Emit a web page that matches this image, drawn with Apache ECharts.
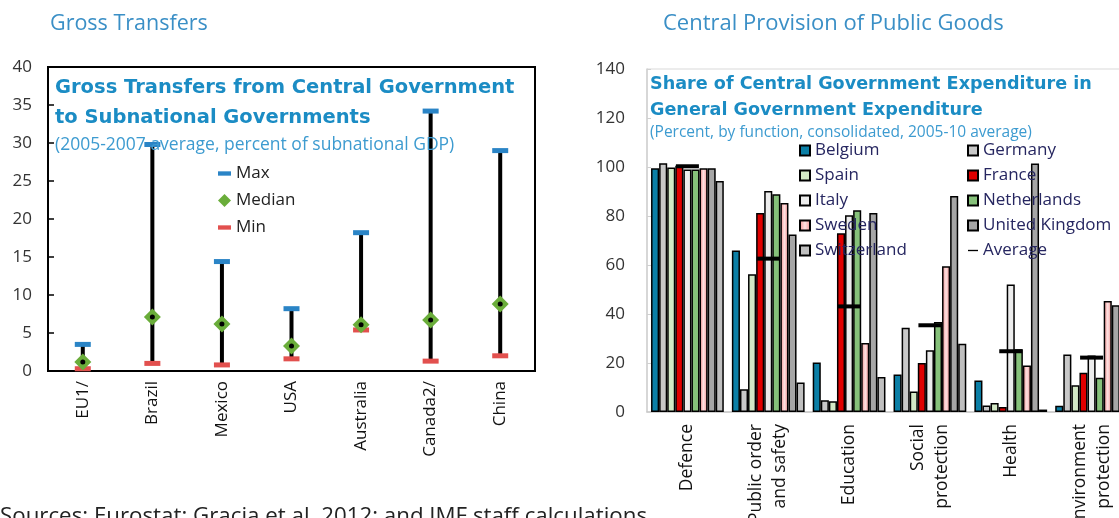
<!DOCTYPE html>
<html>
<head>
<meta charset="utf-8">
<script src="https://cdn.jsdelivr.net/npm/echarts@6/dist/echarts.min.js"></script>
<style>
  html, body { margin: 0; padding: 0; overflow: hidden; background: #fff; }
  #chart { width: 1140px; height: 518px; }
</style>
</head>
<body>
<div id="chart"></div>
<script>
// left panel: gross transfers (percent of subnational GDP)
const transferCats = ["EU1/", "Brazil", "Mexico", "USA", "Australia", "Canada2/", "China"];
const maxVals = [3.5, 29.8, 14.4, 8.2, 18.2, 34.2, 29.0];
const medianVals = [1.2, 7.1, 6.2, 3.3, 6.1, 6.7, 8.8];
const minVals = [0.3, 1.0, 0.8, 1.6, 5.4, 1.3, 2.0];

// right panel: central share of general government expenditure
const functions = ["Defence", "Public order\nand safety", "Education", "Social\nprotection", "Health", "Environment\nprotection"];
const countries = ["Belgium", "Germany", "Spain", "France", "Italy", "Netherlands", "Sweden", "United Kingdom", "Switzerland"];
const belgium = [99.5, 65.9, 20.2, 15.3, 12.9, 2.6];
const germany = [101.5, 9.3, 4.8, 34.4, 2.7, 23.5];
const spain = [99.8, 56.2, 4.4, 8.4, 3.7, 10.9];
const france = [100.5, 81.2, 73.0, 20.0, 2.0, 16.0];
const italy = [99.0, 90.2, 80.3, 25.2, 52.0, 23.1];
const netherlands = [99.0, 88.9, 82.3, 36.7, 25.6, 14.0];
const sweden = [99.5, 85.3, 28.2, 59.5, 19.0, 45.3];
const unitedKingdom = [99.5, 72.4, 81.2, 88.2, 101.4, 43.6];
const switzerland = [94.3, 12.0, 14.3, 27.9, 1.0, 21.0];
const averages = [100.3, 62.6, 43.1, 35.4, 24.8, 22.2];

const countryValues = [belgium, germany, spain, france, italy, netherlands, sweden, unitedKingdom, switzerland];
const countryColors = [
  "#0b7fa6", "#c8c8c8", "#d3e9c6", "#e00000", "#ececec", "#86c17a",
  { type: "linear", x: 0, y: 0, x2: 1, y2: 0,
    colorStops: [{ offset: 0, color: "#f08a8a" }, { offset: 0.5, color: "#fde2e2" }, { offset: 1, color: "#f08a8a" }] },
  "#a6a6a6", "#bfbfbf"
];

const FONT = "Open Sans";
const TITLE_FONT = "DejaVu Sans";
const BLUE = "#1b8cc4";

let myChart = echarts.init(document.getElementById("chart"));

let barSeries = countries.map(function (name, i) {
  return {
    name: name,
    type: "bar",
    xAxisIndex: 1,
    yAxisIndex: 1,
    barGap: "0%",
    barCategoryGap: "10%",
    data: countryValues[i],
    itemStyle: { color: countryColors[i], borderColor: "#000", borderWidth: 1.5 }
  };
});

myChart.setOption({
  animation: false,
  textStyle: { fontFamily: FONT },
  title: [
    { text: "Gross Transfers", left: 50, top: 13, padding: 0,
      textStyle: { fontFamily: FONT, fontSize: 21.5, fontWeight: "normal", color: "#3a8fc6" } },
    { text: "Central Provision of Public Goods", left: 663, top: 13, padding: 0,
      textStyle: { fontFamily: FONT, fontSize: 22, fontWeight: "normal", color: "#3a8fc6" } },
    { text: "Gross Transfers from Central Government\nto Subnational Governments", left: 55, top: 73, padding: 0,
      textStyle: { fontFamily: TITLE_FONT, fontSize: 19.5, fontWeight: "bold", color: BLUE, lineHeight: 30 } },
    { text: "(2005-2007 average, percent of subnational GDP)", left: 55, top: 136, padding: 0,
      textStyle: { fontFamily: FONT, fontSize: 17.5, fontWeight: "normal", color: "#3d9bd0" } },
    { text: "Share of Central Government Expenditure in\nGeneral Government Expenditure", left: 650, top: 71, padding: 0,
      textStyle: { fontFamily: TITLE_FONT, fontSize: 17.6, fontWeight: "bold", color: BLUE, lineHeight: 26 } },
    { text: "(Percent, by function, consolidated, 2005-10 average)", left: 650, top: 125, padding: 0,
      textStyle: { fontFamily: FONT, fontSize: 15.5, fontWeight: "normal", color: "#3d9bd0" } },
    { text: "Sources: Eurostat; Gracia et al. 2012; and IMF staff calculations", left: 0, top: 506, padding: 0,
      textStyle: { fontFamily: FONT, fontSize: 22.3, fontWeight: "normal", color: "#222" } }
  ],
  legend: [
    {
      orient: "vertical", left: 218, top: 165, padding: 0, itemWidth: 13, itemHeight: 13, itemGap: 10,
      textStyle: { fontSize: 17, color: "#222", lineHeight: 16 },
      data: [
        { name: "Max", icon: "path://M0,0h12v4h-12z" },
        { name: "Median", icon: "diamond" },
        { name: "Min", icon: "path://M0,0h12v4h-12z" }
      ]
    },
    {
      orient: "vertical", left: 799, top: 142, padding: 0, itemWidth: 10, itemHeight: 10, itemGap: 8, icon: "rect",
      textStyle: { fontSize: 17, color: "#262660", lineHeight: 16 },
      data: ["Belgium", "Spain", "Italy", "Sweden", "Switzerland"]
    },
    {
      orient: "vertical", left: 967, top: 142, padding: 0, itemWidth: 10, itemHeight: 10, itemGap: 8, icon: "rect",
      textStyle: { fontSize: 17, color: "#262660", lineHeight: 16 },
      data: ["Germany", "France", "Netherlands", "United Kingdom", { name: "Average", icon: "path://M0,0h12v1.6h-12z" }]
    }
  ],
  grid: [
    { left: 48, top: 67, width: 487, height: 304, show: true, borderColor: "#000", borderWidth: 2,
      outerBoundsMode: "none", containLabel: false },
    { left: 647, top: 69, width: 485, height: 343, show: true, borderColor: "#d9d9d9", borderWidth: 1,
      outerBoundsMode: "none", containLabel: false }
  ],
  xAxis: [
    {
      gridIndex: 0, type: "category", data: transferCats, boundaryGap: true,
      axisLine: { lineStyle: { color: "#000", width: 2 } },
      axisTick: { inside: true, length: 6, interval: 0, lineStyle: { color: "#000", width: 1.5 } },
      axisLabel: { rotate: 90, fontSize: 17, color: "#111", margin: 10, interval: 0 }
    },
    {
      gridIndex: 1, type: "category", data: functions, boundaryGap: true,
      axisLine: { lineStyle: { color: "#c8c8c8", width: 1.5 } },
      axisTick: { inside: true, length: 4, interval: 0, lineStyle: { color: "#c8c8c8" } },
      axisLabel: { rotate: 90, fontSize: 17.5, color: "#111", margin: 12, interval: 0, lineHeight: 24 }
    }
  ],
  yAxis: [
    {
      gridIndex: 0, type: "value", min: 0, max: 40, interval: 5,
      axisLine: { show: true, lineStyle: { color: "#000", width: 2 } },
      axisTick: { show: true, inside: true, length: 6, lineStyle: { color: "#000", width: 1.5 } },
      axisLabel: { fontSize: 17, color: "#333", margin: 16 },
      splitLine: { show: false }
    },
    {
      gridIndex: 1, type: "value", min: 0, max: 140, interval: 20,
      axisLine: { show: true, lineStyle: { color: "#d0d0d0", width: 1.5 } },
      axisTick: { show: true, inside: true, length: 4, lineStyle: { color: "#d0d0d0" } },
      axisLabel: { fontSize: 17, color: "#333", margin: 22 },
      splitLine: { show: false }
    }
  ],
  series: [
    {
      name: "Range",
      type: "custom",
      xAxisIndex: 0,
      yAxisIndex: 0,
      z: 2,
      data: transferCats.map(function (c, i) { return [i, minVals[i], maxVals[i]]; }),
      renderItem: function (params, api) {
        let p1 = api.coord([api.value(0), api.value(1)]);
        let p2 = api.coord([api.value(0), api.value(2)]);
        return {
          type: "line",
          shape: { x1: p1[0], y1: p1[1], x2: p2[0], y2: p2[1] },
          style: { stroke: "#000", lineWidth: 4 }
        };
      }
    },
    {
      name: "Max", type: "scatter", xAxisIndex: 0, yAxisIndex: 0, z: 3,
      symbol: "rect", symbolSize: [16, 5], data: maxVals,
      itemStyle: { color: "#2a84c6", opacity: 1 }
    },
    {
      name: "Min", type: "scatter", xAxisIndex: 0, yAxisIndex: 0, z: 3, clip: false,
      symbol: "rect", symbolSize: [16, 5], data: minVals,
      itemStyle: { color: "#e2504e", opacity: 1 }
    },
    {
      name: "Median", type: "scatter", xAxisIndex: 0, yAxisIndex: 0, z: 4,
      symbol: "diamond", symbolSize: 17, data: medianVals,
      itemStyle: { color: "#6aad3a", opacity: 1 }
    },
    {
      name: "MedianDot", type: "scatter", xAxisIndex: 0, yAxisIndex: 0, z: 5,
      symbol: "circle", symbolSize: 5, data: medianVals,
      itemStyle: { color: "#000", opacity: 1 }
    }
  ].concat(barSeries).concat([
    {
      name: "Average", type: "scatter", xAxisIndex: 1, yAxisIndex: 1, z: 6,
      symbol: "rect", symbolSize: [23, 4], data: averages,
      itemStyle: { color: "#000", opacity: 1 }
    }
  ])
});
</script>
</body>
</html>
